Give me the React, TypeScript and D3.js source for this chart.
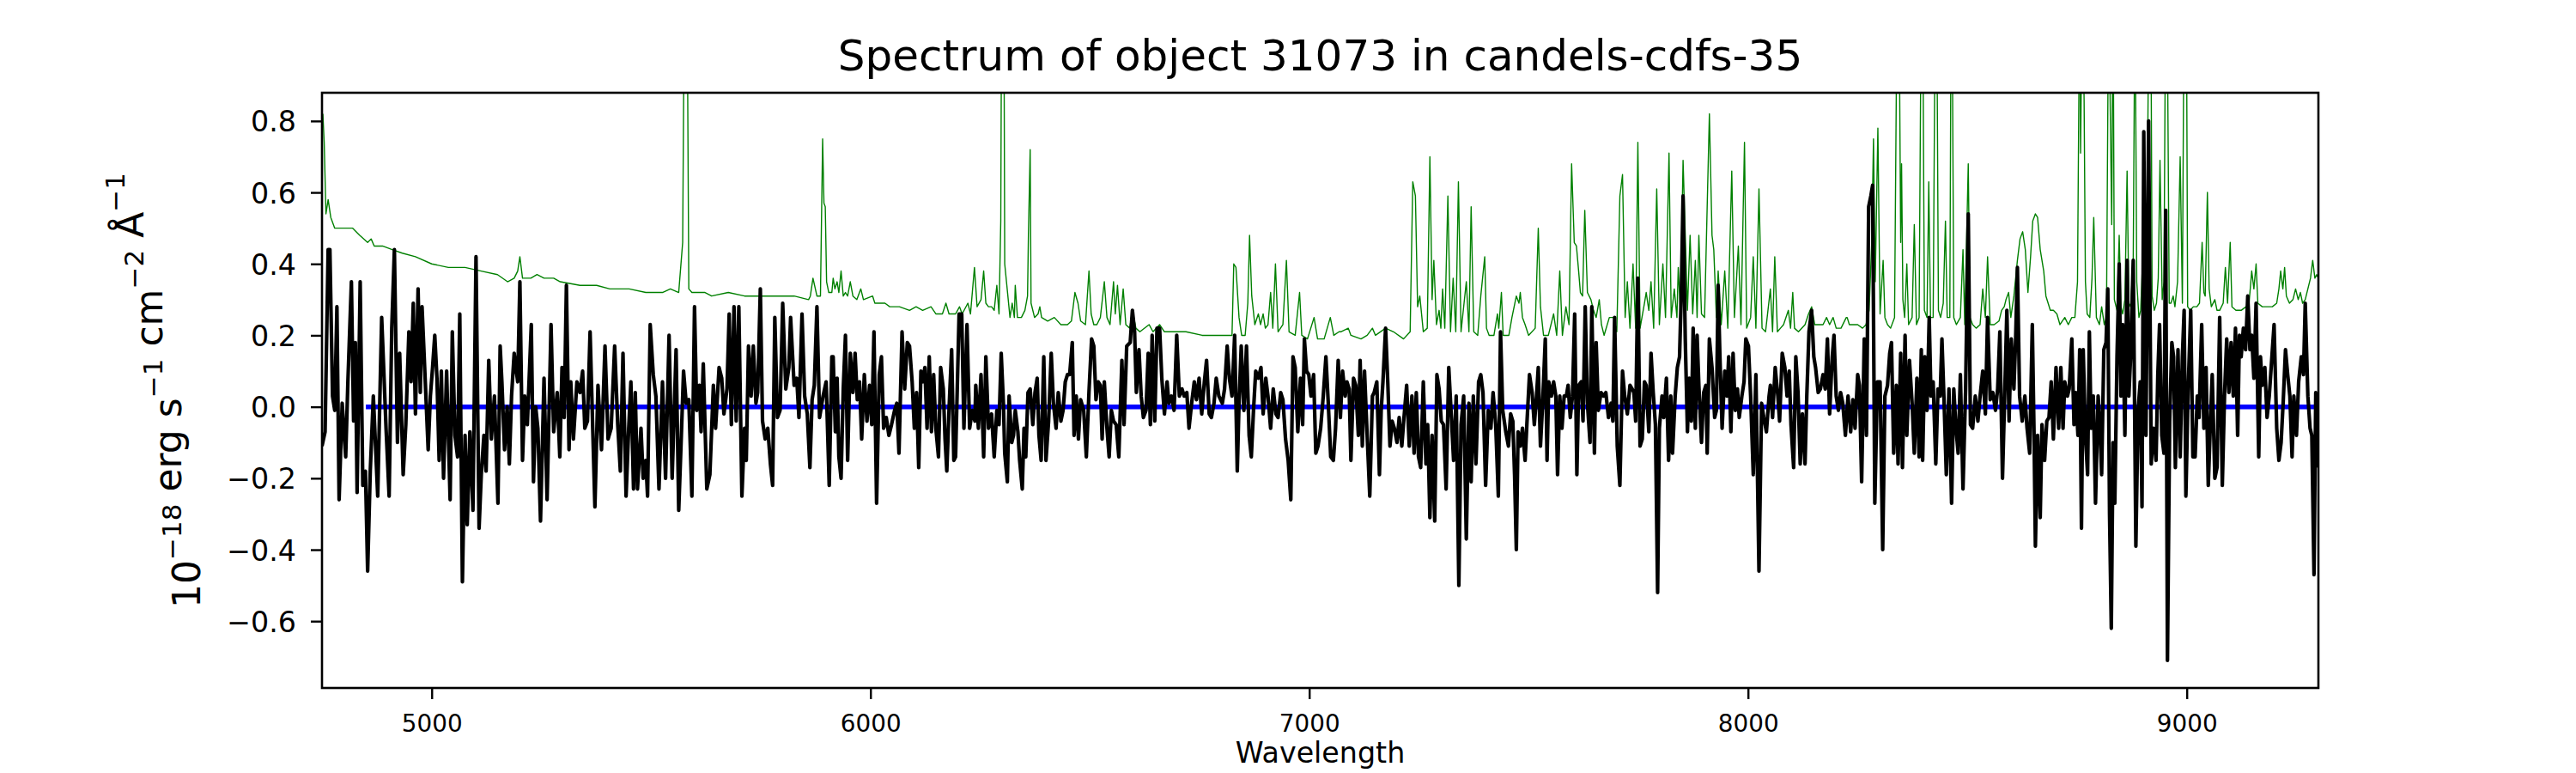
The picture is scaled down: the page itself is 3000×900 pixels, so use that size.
import { useEffect, useRef } from "react";
import * as d3 from "d3";

type Pt = [number, number];

const xTicks = [5000, 6000, 7000, 8000, 9000];
const yTicks = [-0.6, -0.4, -0.2, 0, 0.2, 0.4, 0.6, 0.8];

// observed flux of the object, [wavelength (Å), flux]
const objectFlux: Pt[] = [
  [4750,-0.11],[4757,-0.07],[4764,0.44],[4768,0.44],[4774,0.03],[4779,-0.01],[4784,0.28],[4789,-0.26],[4796,0.01],[4804,-0.14],
  [4809,0.07],[4817,0.35],[4822,-0.04],[4826,0.18],[4830,-0.24],[4837,0.35],[4843,-0.22],[4849,-0.18],[4854,-0.46],[4860,-0.18],
  [4867,0.03],[4877,-0.25],[4880,-0.08],[4886,0.25],[4896,-0.06],[4903,-0.25],[4909,0.22],[4915,0.44],[4922,-0.10],[4927,0.15],
  [4935,-0.19],[4941,-0.05],[4948,0.21],[4953,0.07],[4958,0.29],[4963,-0.02],[4969,0.33],[4974,0.04],[4978,0.28],[4984,0.11],
  [4992,-0.12],[4997,0.03],[5002,0.11],[5007,0.20],[5012,0.08],[5017,-0.15],[5022,0.10],[5027,-0.20],[5034,0.10],[5042,-0.26],
  [5047,0.21],[5053,-0.08],[5059,-0.14],[5064,0.26],[5070,-0.49],[5076,-0.08],[5081,-0.33],[5087,-0.07],[5094,-0.29],[5101,0.42],
  [5108,-0.34],[5113,-0.19],[5119,-0.08],[5124,-0.18],[5130,0.13],[5136,-0.09],[5143,0.03],[5151,-0.27],[5156,0.17],[5160,0.07],
  [5166,-0.12],[5172,0.00],[5177,-0.16],[5182,0.03],[5188,0.15],[5196,0.07],[5201,0.35],[5207,-0.15],[5212,0.03],[5218,-0.05],
  [5227,0.23],[5232,-0.21],[5237,0.00],[5242,-0.06],[5248,-0.32],[5256,0.08],[5263,-0.26],[5272,0.23],[5278,-0.07],[5286,0.04],
  [5292,-0.14],[5297,0.11],[5302,-0.03],[5307,0.34],[5313,-0.12],[5317,0.07],[5323,-0.09],[5331,0.07],[5338,0.04],[5344,0.10],
  [5349,-0.06],[5355,-0.04],[5361,0.21],[5367,-0.06],[5372,-0.28],[5379,0.06],[5387,-0.12],[5395,0.17],[5402,-0.09],[5409,-0.06],
  [5417,0.17],[5424,-0.05],[5430,-0.18],[5436,0.15],[5443,-0.25],[5449,-0.06],[5454,0.07],[5460,-0.23],[5464,0.04],[5469,-0.23],
  [5477,-0.06],[5482,-0.20],[5488,-0.15],[5492,-0.25],[5498,0.23],[5505,0.09],[5511,0.03],[5518,-0.23],[5526,0.07],[5533,-0.20],
  [5541,0.20],[5548,-0.20],[5557,0.16],[5563,-0.29],[5569,-0.08],[5574,0.10],[5580,0.01],[5586,0.02],[5593,-0.25],[5599,0.28],
  [5604,-0.01],[5610,0.06],[5614,-0.07],[5619,0.12],[5627,-0.23],[5634,-0.19],[5642,0.06],[5647,-0.06],[5655,0.11],[5661,0.08],
  [5666,-0.02],[5673,0.05],[5678,0.26],[5683,-0.05],[5689,0.28],[5694,-0.04],[5700,0.28],[5707,-0.25],[5713,-0.06],[5717,-0.15],
  [5722,0.17],[5728,0.03],[5733,0.17],[5739,0.01],[5743,0.04],[5749,0.33],[5754,-0.04],[5760,-0.09],[5766,-0.06],[5772,-0.16],
  [5777,-0.22],[5782,0.25],[5788,-0.03],[5794,-0.01],[5800,0.29],[5807,0.05],[5814,0.11],[5818,0.25],[5826,0.06],[5832,0.08],
  [5837,-0.03],[5844,0.26],[5850,0.03],[5856,-0.02],[5862,-0.17],[5867,0.02],[5872,0.06],[5878,0.28],[5884,-0.03],[5892,0.03],
  [5899,0.07],[5906,-0.22],[5912,0.14],
  [5915,0.14],[5920,-0.07],[5924,0.08],[5928,-0.14],[5933,-0.20],[5938,0.05],[5943,0.20],[5948,-0.15],[5954,0.15],[5960,0.04],
  [5965,0.15],[5970,0.02],[5975,0.07],[5980,-0.09],[5986,0.09],[5992,-0.04],[5998,0.06],[6003,-0.05],[6008,0.21],[6014,-0.27],
  [6020,0.09],[6025,0.14],[6030,-0.06],[6036,-0.03],[6042,-0.08],[6048,-0.05],[6055,-0.01],[6060,0.01],[6065,-0.13],[6072,0.21],
  [6078,0.05],[6084,0.18],[6089,0.17],[6095,0.07],[6100,-0.06],[6105,0.04],[6110,-0.17],[6115,0.10],[6119,0.07],[6124,0.11],
  [6129,-0.06],[6134,0.14],[6139,-0.07],[6144,0.09],[6149,-0.06],[6155,-0.14],[6160,0.11],[6166,0.05],[6170,-0.09],[6174,-0.18],
  [6179,-0.01],[6185,0.16],[6190,-0.15],[6194,-0.14],[6202,0.26],[6208,0.26],[6213,-0.06],[6220,0.23],[6226,-0.06],[6232,-0.01],
  [6238,-0.04],[6240,0.06],[6246,-0.06],[6252,0.09],[6258,-0.14],[6263,0.14],[6269,-0.06],[6276,-0.02],[6282,-0.14],[6288,-0.01],
  [6293,-0.05],[6298,0.15],[6303,0.01],[6306,-0.13],[6312,-0.21],[6316,0.03],[6322,-0.10],[6326,-0.08],[6330,-0.01],[6336,-0.07],
  [6340,-0.15],[6346,-0.23],[6350,-0.06],[6354,-0.14],[6359,0.04],[6364,0.05],[6370,-0.05],[6375,0.04],[6380,0.08],[6384,-0.08],
  [6389,-0.15],[6395,0.14],[6400,-0.15],[6406,-0.04],[6412,0.15],[6417,0.01],[6423,-0.06],[6428,0.04],[6434,-0.04],[6439,-0.01],
  [6444,0.07],[6449,0.09],[6454,0.09],[6460,0.18],[6464,-0.08],[6469,0.03],[6474,-0.09],[6479,0.02],[6486,-0.01],[6492,-0.14],
  [6498,0.04],[6504,0.19],[6509,0.17],[6514,0.02],[6519,0.07],[6524,0.06],[6528,-0.09],[6533,0.07],[6539,-0.06],[6544,-0.14],
  [6549,-0.01],[6554,-0.04],[6560,-0.05],[6566,-0.14],[6573,0.13],[6578,-0.05],[6584,0.17],[6592,0.18],[6597,0.27],[6602,0.21],
  [6606,0.04],[6612,0.16],[6617,0.03],[6622,-0.03],[6628,-0.01],[6633,0.15],[6638,-0.05],[6642,0.20],[6648,-0.04],[6653,0.22],
  [6659,0.22],[6664,0.08],[6670,-0.02],[6676,0.07],[6680,0.01],[6686,0.03],[6692,-0.01],[6698,0.20],[6704,0.03],[6710,0.05],
  [6715,0.03],[6721,0.04],[6726,-0.06],[6732,0.01],[6738,0.07],[6743,0.02],[6749,0.08],[6755,-0.02],[6761,0.07],[6766,0.13],
  [6772,-0.02],[6777,-0.03],[6783,0.01],[6788,0.08],[6794,0.03],[6802,0.01],[6807,0.05],[6813,0.17],[6818,0.08],[6824,0.03],
  [6830,0.20],[6836,-0.18],[6840,0.01],[6845,0.17],[6851,-0.01],[6857,0.17],[6863,-0.08],[6868,-0.14],[6873,-0.01],[6878,0.10],
  [6884,0.08],[6890,0.11],[6895,-0.02],[6901,0.08],[6906,0.03],[6912,-0.06],[6918,0.05],[6924,-0.02],[6929,-0.03],[6935,0.04],
  [6940,0.02],[6946,-0.09],[6952,-0.15],[6958,-0.26],[6963,0.14],[6968,0.11],[6974,-0.07],[6980,0.08],[6985,-0.05],[6989,0.19],
  [6994,0.10],[6999,0.09],[7004,0.03],[7010,0.09],[7015,-0.13],[7020,-0.11],[7026,-0.06],[7032,0.03],[7038,0.14],[7043,0.02],
  [7049,-0.14],[7055,-0.15],[7060,-0.06],[7066,0.13],
  [7071,-0.03],[7076,0.10],[7082,0.03],[7086,0.07],[7091,0.05],[7095,-0.15],[7101,0.08],[7106,0.06],[7112,-0.08],[7116,0.13],
  [7121,-0.11],[7126,0.10],[7132,-0.08],[7138,-0.25],[7144,0.03],[7148,0.04],[7154,0.07],[7160,-0.19],[7164,-0.01],[7168,0.07],
  [7174,0.22],[7179,0.07],[7184,-0.11],[7189,-0.04],[7194,-0.06],[7200,-0.10],[7205,-0.03],[7211,-0.11],[7216,-0.03],[7222,0.06],
  [7228,-0.11],[7234,0.03],[7239,-0.13],[7244,0.04],[7249,-0.14],[7254,-0.17],[7260,0.07],[7266,-0.16],[7270,-0.05],[7275,-0.31],
  [7280,-0.08],[7286,-0.32],[7291,0.09],[7296,0.05],[7301,-0.04],[7306,-0.05],[7312,-0.23],[7318,0.11],[7324,-0.03],[7329,-0.15],
  [7335,0.03],[7341,-0.50],[7346,-0.05],[7352,0.03],[7358,-0.37],[7364,0.01],[7369,-0.21],[7374,0.03],[7380,-0.16],[7386,0.07],
  [7391,0.09],[7396,0.04],[7402,-0.22],[7408,-0.01],[7414,-0.06],[7419,0.04],[7425,-0.05],[7431,-0.25],[7436,0.21],[7441,-0.01],
  [7448,-0.07],[7454,-0.11],[7459,-0.02],[7464,-0.04],[7468,-0.19],[7472,-0.40],[7476,-0.07],[7481,-0.11],[7486,-0.06],[7492,-0.15],
  [7496,-0.05],[7502,0.09],[7508,0.04],[7513,-0.05],[7518,0.03],[7522,0.11],[7527,-0.11],[7532,0.01],[7538,0.19],[7542,-0.15],
  [7546,0.07],[7552,0.03],[7557,0.07],[7562,0.03],[7566,-0.19],[7571,0.03],[7576,-0.06],[7581,0.03],[7586,0.03],[7590,0.06],
  [7595,-0.03],[7600,0.03],[7605,0.26],[7610,-0.19],[7614,0.06],[7620,0.07],[7624,-0.04],[7629,0.28],[7634,0.01],[7640,-0.10],
  [7644,0.28],[7650,-0.13],[7654,0.18],[7659,-0.01],[7665,0.04],[7671,0.03],[7676,0.04],[7682,-0.03],[7688,0.01],[7692,-0.04],
  [7696,0.25],[7702,-0.11],[7708,-0.22],[7714,0.10],[7719,0.03],[7725,-0.02],[7731,0.06],[7736,0.05],[7740,0.04],[7744,-0.04],
  [7749,0.36],[7754,-0.11],[7759,-0.09],[7764,0.07],[7768,0.06],[7774,-0.07],[7779,0.15],[7784,0.04],[7789,-0.05],[7794,-0.52],
  [7798,-0.06],[7804,0.03],[7808,-0.03],[7814,0.08],[7819,-0.15],[7824,0.03],[7828,-0.13],[7834,0.03],[7839,0.11],[7844,0.14],
  [7848,0.32],[7852,0.59],[7857,0.19],[7862,-0.07],[7866,0.08],[7871,-0.04],[7875,0.22],[7880,-0.06],[7884,0.20],[7888,0.06],
  [7894,-0.10],[7899,0.04],[7904,0.06],[7907,-0.13],[7912,0.19],[7918,0.11],[7924,-0.03],[7928,-0.01],[7932,0.34],[7936,0.14],
  [7941,-0.06],[7947,0.10],[7952,0.03],[7956,0.14],[7961,-0.07],[7966,0.15],[7971,-0.01],[7976,0.05],[7980,-0.03],[7986,0.03],
  [7991,0.07],[7995,0.19],[8001,0.17],[8006,0.03],[8012,-0.19],[8018,0.09],[8025,-0.46],[8031,0.01],[8036,-0.03],[8042,-0.07],
  [8048,0.03],[8051,0.06],[8056,-0.03],[8062,0.11],[8068,0.03],[8072,-0.04],[8078,0.15],[8084,0.11],[8089,0.03],[8094,0.10],
  [8098,-0.05],[8104,-0.17],[8109,0.14],[8114,0.04],[8119,-0.16],[8124,-0.02],[8130,-0.16],[8134,0.03],[8139,0.21],[8145,0.27],
  [8150,0.14],[8154,0.11],[8160,0.04],[8165,0.05],[8171,0.09],[8176,0.05],[8181,0.19],[8186,-0.02],[8192,0.14],[8196,0.20],
  [8201,0.03],[8206,-0.01],[8211,0.04],[8216,0.01],[8222,-0.08],
  [8228,0.03],[8234,-0.07],[8239,0.02],[8244,-0.06],[8250,0.09],[8254,0.06],[8259,-0.21],[8265,0.19],[8270,-0.08],[8275,0.56],
  [8280,0.59],[8284,0.62],[8289,-0.27],[8295,0.07],[8301,0.07],[8307,-0.40],[8312,0.03],[8318,0.06],[8323,0.15],[8327,0.18],
  [8332,-0.13],[8338,0.06],[8342,-0.16],[8348,0.15],[8352,-0.17],[8358,0.20],[8362,-0.08],[8368,0.13],[8374,0.01],[8379,-0.13],
  [8385,0.08],[8390,-0.14],[8395,0.16],[8398,-0.15],[8403,0.14],[8408,-0.01],[8413,0.25],[8417,0.03],[8422,0.07],[8428,-0.16],
  [8433,0.05],[8438,0.03],[8442,0.19],[8447,0.01],[8452,-0.19],[8458,0.05],[8464,-0.27],[8469,0.05],[8474,-0.06],[8479,-0.13],
  [8484,0.09],[8490,-0.23],[8496,0.05],[8502,0.54],[8507,-0.05],[8512,-0.06],[8518,0.03],[8524,-0.04],[8529,0.03],[8535,0.10],
  [8541,-0.02],[8546,0.25],[8552,0.02],[8558,0.04],[8564,-0.01],[8569,0.05],[8574,0.21],[8580,-0.20],[8585,0.03],[8590,0.27],
  [8595,-0.04],[8600,0.19],[8606,0.05],[8610,0.19],[8614,0.39],[8619,0.03],[8625,-0.04],[8631,0.03],[8636,-0.06],[8642,-0.13],
  [8648,0.23],[8652,-0.08],[8655,-0.39],[8660,-0.08],[8666,-0.31],[8670,-0.05],[8676,-0.15],[8681,-0.04],[8686,-0.03],[8691,0.07],
  [8696,-0.09],[8702,0.11],[8708,-0.06],[8713,0.11],[8718,-0.06],[8722,0.07],[8728,0.03],[8732,0.05],[8738,0.19],[8743,-0.05],
  [8747,0.04],[8752,-0.08],[8756,0.16],[8760,-0.34],[8764,0.16],[8769,-0.08],[8774,-0.19],[8778,0.21],[8782,-0.06],[8787,0.03],
  [8792,-0.27],[8798,0.03],[8802,-0.05],[8806,-0.19],[8811,0.16],[8816,0.18],[8820,0.33],[8824,-0.30],[8828,-0.62],[8832,-0.10],
  [8836,-0.27],[8841,0.14],[8846,0.40],[8850,0.03],[8854,0.23],[8859,-0.08],[8864,0.41],[8868,0.03],[8872,0.14],[8878,0.41],
  [8884,-0.39],[8889,-0.01],[8894,0.07],[8898,-0.28],[8902,0.77],[8907,-0.08],[8913,0.80],[8919,-0.16],[8924,-0.06],[8930,-0.15],
  [8934,0.09],[8938,0.23],[8943,-0.08],[8948,-0.13],[8952,0.55],[8956,-0.71],[8961,-0.04],[8966,0.18],[8970,0.14],[8974,-0.17],
  [8980,0.16],[8985,-0.14],[8990,0.14],[8994,0.27],[8998,-0.25],[9003,0.04],[9009,0.27],[9014,-0.14],[9019,-0.14],[9024,0.03],
  [9028,-0.03],[9034,0.23],[9039,-0.06],[9044,0.11],[9049,-0.22],[9054,-0.04],[9058,0.09],[9064,-0.20],[9069,-0.17],[9075,0.25],
  [9081,-0.22],[9086,0.03],[9091,0.19],[9096,0.04],[9101,0.18],[9106,0.03],[9111,0.22],[9116,-0.08],[9120,0.20],[9124,0.14],
  [9129,0.22],[9134,0.16],[9139,0.31],[9144,0.16],[9148,0.20],[9153,0.08],[9158,0.29],[9164,-0.14],[9168,0.14],[9172,0.06],
  [9178,0.11],[9183,-0.03],[9188,0.03],[9194,0.14],[9199,0.23],[9205,-0.06],[9210,-0.15],[9215,-0.10],[9220,0.02],[9225,0.16],
  [9230,0.09],[9235,0.03],[9240,-0.14],[9244,0.03],[9250,-0.08],[9255,0.07],[9261,0.14],[9266,0.09],[9270,0.29],[9276,0.03],
  [9281,-0.06],[9285,-0.08],[9290,-0.47],[9294,0.04],[9300,-0.17],
];

// noise / sky spectrum, [wavelength (Å), flux]; 1.2 marks lines running off the top
const noiseFlux: Pt[] = [
  [4752,0.82],[4755,0.74],[4759,0.54],[4764,0.58],[4770,0.53],[4779,0.50],[4790,0.50],[4806,0.50],[4820,0.50],[4836,0.48],
  [4854,0.46],[4862,0.47],[4869,0.45],[4888,0.45],[4910,0.44],[4933,0.43],[4963,0.42],[5000,0.40],[5038,0.39],[5076,0.39],
  [5113,0.38],[5150,0.37],[5173,0.35],[5188,0.36],[5196,0.38],[5201,0.42],[5207,0.36],[5226,0.36],[5240,0.37],[5256,0.36],
  [5278,0.36],[5293,0.35],[5338,0.34],[5376,0.34],[5406,0.33],[5450,0.33],[5488,0.32],[5526,0.32],[5544,0.33],[5563,0.32],
  [5572,0.46],[5576,1.2],[5582,1.2],[5586,0.33],[5593,0.32],[5623,0.32],[5638,0.31],[5676,0.32],[5713,0.31],[5750,0.31],
  [5788,0.31],[5826,0.31],[5859,0.30],[5863,0.31],[5869,0.36],[5878,0.31],[5886,0.31],[5891,0.75],[5894,0.57],[5897,0.56],
  [5900,0.35],[5905,0.32],[5912,0.32],
  [5915,0.36],[5919,0.33],[5924,0.35],[5928,0.32],[5933,0.38],[5938,0.31],[5943,0.32],[5948,0.31],[5954,0.35],[5960,0.31],
  [5969,0.30],[5978,0.33],[5984,0.30],[6005,0.31],[6010,0.29],[6033,0.29],[6044,0.28],[6066,0.28],[6089,0.27],[6104,0.28],
  [6119,0.27],[6138,0.28],[6149,0.26],[6164,0.26],[6172,0.29],[6179,0.26],[6194,0.26],[6203,0.28],[6209,0.26],[6222,0.29],
  [6228,0.26],[6237,0.39],[6243,0.28],[6252,0.30],[6258,0.38],[6263,0.29],[6269,0.28],[6276,0.28],[6282,0.27],[6288,0.34],
  [6293,0.26],[6297,0.52],[6299,1.2],[6304,1.2],[6306,0.40],[6310,0.35],[6318,0.25],[6323,0.29],[6328,0.25],[6330,0.34],
  [6335,0.25],[6344,0.25],[6352,0.27],[6358,0.31],[6360,0.48],[6364,0.72],[6366,0.29],[6374,0.25],[6382,0.26],[6386,0.28],
  [6390,0.25],[6404,0.24],[6419,0.25],[6434,0.23],[6449,0.23],[6458,0.24],[6466,0.32],[6473,0.29],[6479,0.24],[6490,0.23],
  [6498,0.38],[6503,0.26],[6509,0.23],[6516,0.23],[6524,0.25],[6533,0.35],[6539,0.25],[6546,0.23],[6554,0.35],[6558,0.26],
  [6563,0.34],[6569,0.23],[6576,0.33],[6582,0.23],[6591,0.22],[6597,0.27],[6605,0.22],[6614,0.21],[6635,0.23],[6644,0.21],
  [6659,0.23],[6670,0.21],[6704,0.21],[6719,0.21],[6756,0.20],[6794,0.20],[6816,0.20],[6824,0.20],[6828,0.40],[6833,0.39],
  [6840,0.25],[6846,0.20],[6854,0.20],[6860,0.29],[6864,0.48],[6869,0.31],[6876,0.23],[6884,0.26],[6889,0.23],[6895,0.26],
  [6900,0.22],[6906,0.23],[6912,0.32],[6917,0.22],[6923,0.40],[6929,0.21],[6940,0.23],[6948,0.41],[6954,0.21],[6968,0.20],
  [6978,0.32],[6983,0.20],[6996,0.19],[7011,0.25],[7019,0.19],[7034,0.19],[7048,0.25],[7056,0.20],[7068,0.21],
  [7072,0.21],[7089,0.22],[7095,0.20],[7118,0.19],[7132,0.20],[7144,0.22],[7151,0.20],[7174,0.22],[7192,0.21],[7215,0.19],
  [7230,0.21],[7236,0.63],[7242,0.59],[7247,0.28],[7252,0.31],[7260,0.21],[7269,0.22],[7275,0.70],[7280,0.30],[7284,0.41],
  [7290,0.23],[7296,0.27],[7300,0.22],[7304,0.33],[7309,0.22],[7316,0.59],[7322,0.21],[7328,0.36],[7334,0.21],[7340,0.63],
  [7346,0.21],[7358,0.35],[7364,0.21],[7369,0.56],[7375,0.21],[7384,0.20],[7391,0.31],[7400,0.42],[7404,0.22],[7410,0.20],
  [7421,0.20],[7429,0.26],[7432,0.22],[7438,0.32],[7442,0.20],[7455,0.20],[7462,0.25],[7472,0.31],[7478,0.29],[7481,0.32],
  [7486,0.25],[7492,0.23],[7500,0.20],[7515,0.22],[7522,0.50],[7527,0.28],[7534,0.20],[7545,0.20],[7557,0.26],[7564,0.20],
  [7571,0.38],[7577,0.20],[7585,0.28],[7592,0.23],[7598,0.68],[7604,0.46],[7609,0.45],[7614,0.38],[7618,0.32],[7623,0.31],
  [7628,0.55],[7634,0.32],[7642,0.30],[7648,0.27],[7654,0.25],[7661,0.30],[7666,0.23],[7672,0.20],[7684,0.25],[7694,0.25],
  [7701,0.21],[7708,0.59],[7714,0.65],[7720,0.25],[7725,0.35],[7731,0.22],[7738,0.40],[7744,0.22],[7749,0.74],[7754,0.22],
  [7764,0.29],[7768,0.32],[7774,0.27],[7779,0.35],[7785,0.22],[7792,0.61],[7798,0.23],[7806,0.40],[7812,0.25],[7820,0.71],
  [7825,0.25],[7832,0.33],[7838,0.25],[7841,0.39],[7846,0.26],[7852,0.69],[7858,0.44],[7862,0.27],[7868,0.48],[7874,0.26],
  [7880,0.41],[7884,0.25],[7888,0.48],[7894,0.26],[7901,0.25],[7912,0.82],[7918,0.48],[7922,0.44],[7928,0.25],[7932,0.38],
  [7939,0.23],[7947,0.38],[7954,0.22],[7963,0.66],[7969,0.25],[7978,0.45],[7984,0.23],[7992,0.74],[7997,0.22],[8006,0.25],
  [8012,0.42],[8018,0.22],[8025,0.61],[8032,0.22],[8040,0.21],[8051,0.33],[8056,0.21],[8061,0.42],[8067,0.21],[8074,0.22],
  [8081,0.23],[8092,0.27],[8097,0.22],[8102,0.32],[8106,0.22],[8115,0.21],[8130,0.23],[8138,0.26],[8145,0.28],[8152,0.23],
  [8160,0.23],[8171,0.23],[8179,0.25],[8186,0.23],[8194,0.25],[8201,0.22],[8212,0.22],[8224,0.25],
  [8226,0.25],[8231,0.23],[8239,0.23],[8250,0.23],[8261,0.22],[8269,0.23],[8276,0.27],[8282,0.46],[8286,0.75],[8290,0.35],
  [8296,0.78],[8301,0.26],[8308,0.41],[8312,0.25],[8318,0.23],[8325,0.22],[8334,0.25],[8340,1.2],[8344,1.2],[8348,0.46],
  [8350,0.68],[8353,0.30],[8357,0.25],[8362,0.40],[8366,0.23],[8374,0.25],[8379,0.51],[8384,0.23],[8390,0.25],[8395,1.2],
  [8398,1.2],[8402,0.27],[8408,0.25],[8412,0.63],[8416,0.25],[8422,0.25],[8427,1.2],[8430,1.2],[8434,0.27],[8439,0.25],
  [8445,0.29],[8450,0.52],[8454,0.25],[8460,0.25],[8463,1.2],[8465,1.2],[8469,0.25],[8475,0.23],[8484,0.25],[8490,0.44],
  [8494,0.23],[8502,0.68],[8506,0.25],[8512,0.23],[8520,0.22],[8529,0.23],[8535,0.33],[8541,0.25],[8546,0.42],[8552,0.23],
  [8561,0.23],[8572,0.24],[8578,0.27],[8584,0.28],[8588,0.30],[8594,0.32],[8599,0.25],[8606,0.31],[8614,0.41],[8620,0.47],
  [8626,0.49],[8632,0.44],[8638,0.32],[8644,0.42],[8649,0.52],[8655,0.54],[8660,0.53],[8666,0.44],[8674,0.38],[8679,0.31],
  [8689,0.27],[8696,0.27],[8704,0.26],[8711,0.23],[8722,0.25],[8730,0.23],[8738,0.25],[8745,0.25],[8751,0.35],[8756,1.2],
  [8758,0.71],[8762,1.2],[8766,0.86],[8769,0.35],[8773,0.26],[8779,0.25],[8784,0.36],[8788,0.53],[8794,0.25],[8801,0.23],
  [8806,0.28],[8812,0.23],[8817,0.25],[8822,1.2],[8826,0.79],[8829,0.51],[8832,1.2],[8835,0.30],[8841,0.27],[8846,0.48],
  [8850,0.28],[8854,0.26],[8859,0.30],[8864,0.66],[8868,0.29],[8872,0.28],[8878,0.41],[8882,1.2],[8886,0.35],[8891,0.25],
  [8895,0.27],[8900,0.43],[8904,0.26],[8908,0.27],[8914,1.2],[8918,1.2],[8921,0.31],[8926,0.27],[8931,0.29],[8935,0.36],
  [8939,0.69],[8944,0.30],[8948,0.35],[8952,1.2],[8955,1.2],[8960,0.29],[8964,0.29],[8969,0.31],[8973,0.28],[8979,0.35],
  [8985,0.70],[8990,0.29],[8994,1.2],[8999,1.2],[9002,0.28],[9008,0.27],[9015,0.28],[9023,0.28],[9029,0.29],[9035,0.46],
  [9039,0.32],[9042,0.31],[9047,0.60],[9051,0.33],[9056,0.28],[9064,0.30],[9069,0.27],[9075,0.27],[9083,0.29],[9088,0.39],
  [9093,0.29],[9099,0.46],[9103,0.28],[9112,0.27],[9124,0.27],[9135,0.28],[9142,0.29],[9148,0.38],[9153,0.33],[9158,0.40],
  [9162,0.29],[9172,0.28],[9184,0.28],[9195,0.28],[9205,0.29],[9210,0.33],[9214,0.38],[9219,0.33],[9223,0.39],[9227,0.31],
  [9234,0.29],[9242,0.30],[9248,0.33],[9254,0.30],[9259,0.32],[9264,0.29],[9270,0.30],[9278,0.34],[9282,0.36],[9287,0.41],
  [9292,0.36],[9296,0.37],[9300,0.36],
];

// model / continuum (flat at zero)
const modelFlux: Pt[] = [[4850, 0], [9295, 0]];

const WIDTH = 3000;
const HEIGHT = 900;
const FONT = "DejaVu Sans, Liberation Sans, sans-serif";

export default function App() {
  const svgRef = useRef<SVGSVGElement>(null);

  useEffect(() => {
    document.body.style.margin = "0";
    const svg = d3.select(svgRef.current);
    svg.selectAll("*").remove();

    const margin = { top: 108, right: 300, bottom: 99, left: 375 };
    const x = d3.scaleLinear().domain([4750, 9300]).range([margin.left, WIDTH - margin.right]);
    const y = d3.scaleLinear().domain([-0.787, 0.879]).range([HEIGHT - margin.bottom, margin.top]);
    const [x0, x1] = x.range();
    const [y0, y1] = y.range();

    svg.append("rect").attr("width", WIDTH).attr("height", HEIGHT).attr("fill", "#fff");

    svg.append("defs").append("clipPath").attr("id", "plot")
      .append("rect").attr("x", x0).attr("y", y1).attr("width", x1 - x0).attr("height", y0 - y1);

    const line = d3.line<Pt>().x((d) => x(d[0])).y((d) => y(d[1]));
    const g = svg.append("g").attr("clip-path", "url(#plot)");

    g.append("path").attr("d", line(noiseFlux)).attr("fill", "none")
      .attr("stroke", "#008000").attr("stroke-width", 1.4).attr("stroke-linejoin", "round");
    g.append("path").attr("d", line(modelFlux)).attr("fill", "none")
      .attr("stroke", "#0000ff").attr("stroke-width", 5.5);
    g.append("path").attr("d", line(objectFlux)).attr("fill", "none")
      .attr("stroke", "#000").attr("stroke-width", 4.2).attr("stroke-linejoin", "round");

    // axes
    const xAxis = svg.append("g").attr("transform", `translate(0,${y0})`)
      .call(d3.axisBottom(x).tickValues(xTicks).tickSize(13).tickPadding(18).tickFormat(d3.format("d")));
    xAxis.select(".domain").remove();
    xAxis.selectAll(".tick line").attr("stroke", "#000").attr("stroke-width", 2.4);
    xAxis.selectAll(".tick text").attr("fill", "#000").attr("font-size", 27.8).attr("font-family", FONT);

    const yAxis = svg.append("g").attr("transform", `translate(${x0},0)`)
      .call(d3.axisLeft(y).tickValues(yTicks).tickSize(13).tickPadding(17).tickFormat(d3.format(".1f")));
    yAxis.select(".domain").remove();
    yAxis.selectAll(".tick line").attr("stroke", "#000").attr("stroke-width", 2.4);
    yAxis.selectAll(".tick text").attr("fill", "#000").attr("font-size", 33.3).attr("font-family", FONT)
      .attr("dy", "0.36em");

    svg.append("rect").attr("x", x0).attr("y", y1).attr("width", x1 - x0).attr("height", y0 - y1)
      .attr("fill", "none").attr("stroke", "#000").attr("stroke-width", 2.6);

    // labels
    svg.append("text").attr("x", (x0 + x1) / 2).attr("y", 82).attr("text-anchor", "middle")
      .attr("font-family", FONT).attr("font-size", 50).text("Spectrum of object 31073 in candels-cdfs-35");

    svg.append("text").attr("x", (x0 + x1) / 2).attr("y", 888).attr("text-anchor", "middle")
      .attr("font-family", FONT).attr("font-size", 33.3).text("Wavelength");

    const yl = svg.append("text")
      .attr("transform", `translate(233,${(y0 + y1) / 2}) rotate(-90)`)
      .attr("text-anchor", "middle").attr("font-family", FONT).attr("font-size", 44);
    const parts: [string, string][] = [["10", "−18"], [" erg s", "−1"], [" cm", "−2"], [" Å", "−1"]];
    parts.forEach(([base, sup]) => {
      yl.append("tspan").attr("dy", 0).text(base);
      yl.append("tspan").attr("font-size", 31).attr("dy", -22).text(sup);
      yl.append("tspan").attr("dy", 22).text("");
    });
  }, []);

  return <svg ref={svgRef} width={WIDTH} height={HEIGHT} style={{ display: "block" }} />;
}
